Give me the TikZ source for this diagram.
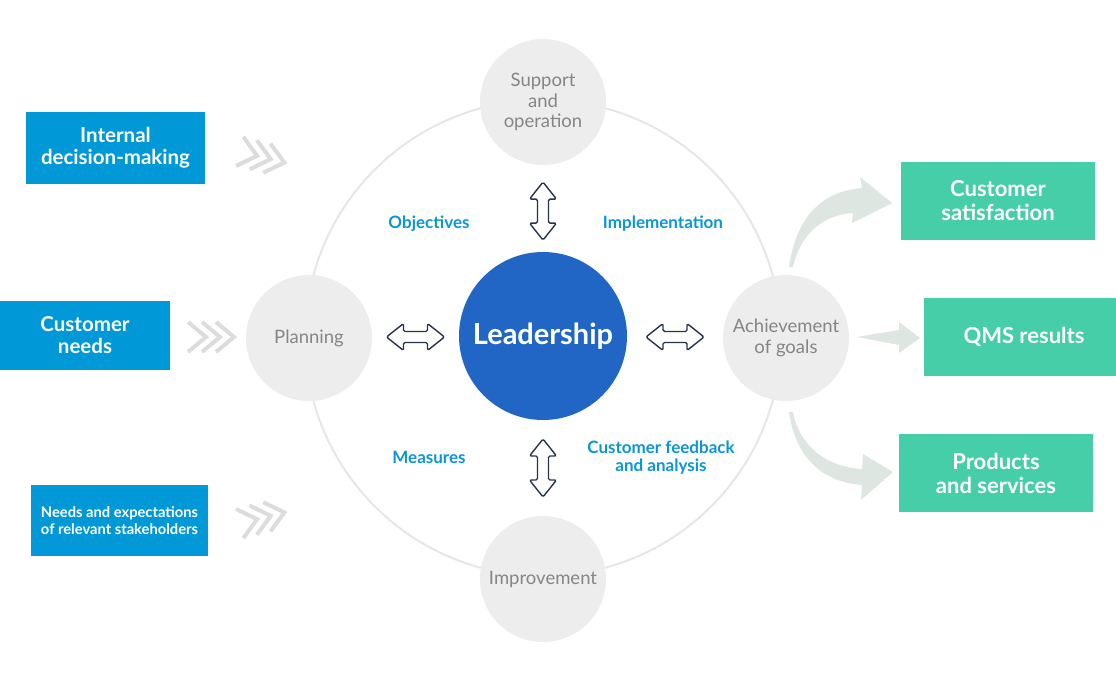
\documentclass[tikz,border=0pt]{standalone}
\usepackage{fontspec}
\setmainfont{Lato}
\usepackage{tikz}
\usetikzlibrary{calc}

\definecolor{leadblue}{HTML}{2166C4}
\definecolor{inblue}{HTML}{0098D6}
\definecolor{outgreen}{HTML}{45CEA8}
\definecolor{tagblue}{HTML}{0A96D6}
\definecolor{stagegray}{HTML}{EDEDED}
\definecolor{stagetext}{HTML}{858585}
\definecolor{ringgray}{HTML}{E6E6E6}
\definecolor{navy}{HTML}{28324E}
\definecolor{chevgray}{HTML}{DCDCDC}
\definecolor{flowgreen}{HTML}{DDE6E1}

\begin{document}
\begin{tikzpicture}[x=1pt,y=1pt,
  stage/.style={circle,fill=stagegray,minimum size=126,inner sep=0,text=stagetext,align=center,font=\fontsize{18.5}{20.5}\selectfont},
  inbox/.style={fill=inblue,text=white,align=center,inner sep=0,font=\bfseries\fontsize{20.5}{22}\selectfont},
  outbox/.style={fill=outgreen,text=white,align=center,inner sep=0,minimum height=78,font=\bfseries\fontsize{22}{24}\selectfont},
  tag/.style={text=tagblue,align=center,font=\bfseries\fontsize{17}{18}\selectfont},
  twoway/.style={draw=navy,line width=1.4pt,fill=white,rounded corners=1.5,line join=round},
  chev/.style={draw=chevgray,line width=4pt},
  flow/.style={fill=flowgreen}]
\useasboundingbox (0,0) rectangle (1116,680);

\draw[ringgray,line width=2pt] (543,342) circle (238);

\node[circle,fill=leadblue,minimum size=168,inner sep=0,text=white,font=\bfseries\fontsize{29}{32}\selectfont] (lead) at (543,344) {Leadership};
\node[stage] (supp) at (543,578) {Support\\and\\operation};
\node[stage] (plan) at (309,342) {Planning};
\node[stage] (achv) at (786,342) {Achievement\\of goals};
\node[stage] (impr) at (543,101) {Improvement};

\coordinate (a1) at ($(plan.east)!0.5!(lead.west)$);
\coordinate (a2) at ($(lead.east)!0.5!(achv.west)$);
\coordinate (a3) at ($(lead.north)!0.47!(supp.south)$);
\coordinate (a4) at ($(lead.south)!0.5!(impr.north)$);
\foreach \p/\r in {a1/0, a2/0, a3/90, a4/90} {
  \begin{scope}[shift={(\p)},rotate=\r]
    \draw[twoway] (-29,0) -- (-12,13.5) -- (-12,5.5) -- (12,5.5) -- (12,13.5) -- (29,0)
      -- (12,-13.5) -- (12,-5.5) -- (-12,-5.5) -- (-12,-13.5) -- cycle;
  \end{scope}
}

\node[tag] (obj) at (429,456) {Objectives};
\node[tag] (impl) at (663,456) {Implementation};
\node[tag] (meas) at (429,223) {Measures};
\node[tag] (feed) at (661,222) {Customer feedback\\and analysis};

\node[inbox,minimum width=179,minimum height=72] (intl) at (115.5,532) {Internal\\decision-making};
\node[inbox,minimum width=170,minimum height=69] (custn) at (85,344.5) {Customer\\needs};
\node[inbox,minimum width=177,minimum height=71,font=\bfseries\fontsize{14.7}{16.5}\selectfont] (stake) at (119.5,159.5) {Needs and expectations\\of relevant stakeholders};

\foreach \cx/\cy/\ang in {262/523/-14, 211/343/0, 262/162/14} {
  \begin{scope}[shift={(\cx,\cy)},rotate=\ang]
    \foreach \dx in {-14,0,14}
      \draw[chev] (\dx-9,15) -- (\dx+9,0) -- (\dx-9,-15);
  \end{scope}
}

\node[outbox,minimum width=194] (sat) at (998,479) {Customer\\satisfaction};
\node[outbox,minimum width=192] (qms) at (1020,343) {\hspace*{8pt}QMS results};
\node[outbox,minimum width=194] (prod) at (996,207) {Products\\and services};

\fill[flow] (789,413) .. controls (795,455) and (815,488) .. (862,492) -- (860,503) -- (892,477) -- (852,457) -- (853,467) .. controls (822,465) and (800,445) .. (793,413) -- cycle;
\fill[flow] (857,343) -- (899,350) -- (899,358) -- (920,342) -- (899,327) -- (899,335) -- cycle;
\fill[flow] (789,268) .. controls (795,225) and (820,198) .. (862,195) -- (861,180) -- (893,208) -- (863,226) -- (862,211) .. controls (828,213) and (800,232) .. (793,268) -- cycle;
\end{tikzpicture}
\end{document}
